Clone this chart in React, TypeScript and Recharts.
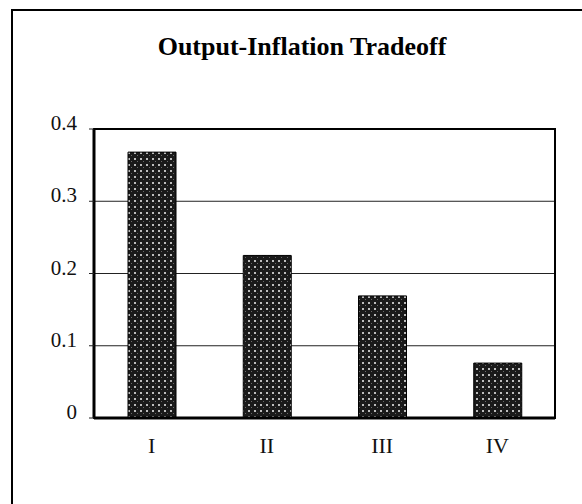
import { BarChart, Bar, XAxis, YAxis, CartesianGrid, ReferenceArea } from 'recharts'

const quarters = ['I', 'II', 'III', 'IV']
const tradeoff = [0.368, 0.225, 0.169, 0.076]
const yTicks = [0, 0.1, 0.2, 0.3, 0.4]

const data = quarters.map((q, i) => ({ quarter: q, value: tradeoff[i] }))

const serif = '"Liberation Serif", "DejaVu Serif", serif'

// y labels sit a little above their gridline in the original
const YTick = ({ x, y, payload }: any) => (
  <text x={x} y={y} dy={1} textAnchor="end" fontSize={21} fill="#111" fontFamily={serif}>
    {payload.value}
  </text>
)

export default function App() {
  return (
    <div style={{ position: 'fixed', left: 0, top: 0, width: 582, height: 504, overflow: 'hidden', background: '#fff' }}>
      {/* scanned page frame, cut off at right and bottom */}
      <div
        style={{
          position: 'absolute', left: 11, top: 9, width: 580, height: 500,
          borderTop: '2px solid #000', borderLeft: '2px solid #000',
        }}
      />
      <div
        style={{
          position: 'absolute', left: 12, width: 580, top: 32, textAlign: 'center',
          fontFamily: serif, fontWeight: 'bold', fontSize: 26, color: '#000', lineHeight: 'normal',
        }}
      >
        Output-Inflation Tradeoff
      </div>
      <div style={{ position: 'absolute', left: 0, top: 0 }}>
        <BarChart
          width={582}
          height={504}
          data={data}
          margin={{ top: 129, right: 27, bottom: 56, left: 0 }}
        >
          <defs>
            <pattern id="dots" width="6" height="6" patternUnits="userSpaceOnUse">
              <rect width="6" height="6" fill="#1a1a1a" />
              <rect x="2" y="2" width="2" height="2" fill="#bdbdbd" />
              <rect x="5" y="5" width="1" height="1" fill="#6a6a6a" />
            </pattern>
          </defs>
          <CartesianGrid vertical={false} stroke="#222" strokeWidth={1} />
          <XAxis
            dataKey="quarter"
            height={30}
            tickLine={false}
            tickSize={0}
            tickMargin={19}
            axisLine={{ stroke: '#000', strokeWidth: 3 }}
            tick={{ fontSize: 22, fill: '#111', fontFamily: serif }}
          />
          <YAxis
            width={94}
            domain={[0, 0.4]}
            ticks={yTicks}
            interval={0}
            tickSize={5}
            tickMargin={12}
            tickLine={{ stroke: '#222' }}
            axisLine={{ stroke: '#000', strokeWidth: 3 }}
            tick={<YTick />}
          />
          <ReferenceArea y1={0} y2={0.4} fill="none" stroke="#000" strokeWidth={2} />
          <Bar dataKey="value" barSize={48} fill="url(#dots)" stroke="#000" strokeWidth={1} isAnimationActive={false} />
        </BarChart>
      </div>
    </div>
  )
}
